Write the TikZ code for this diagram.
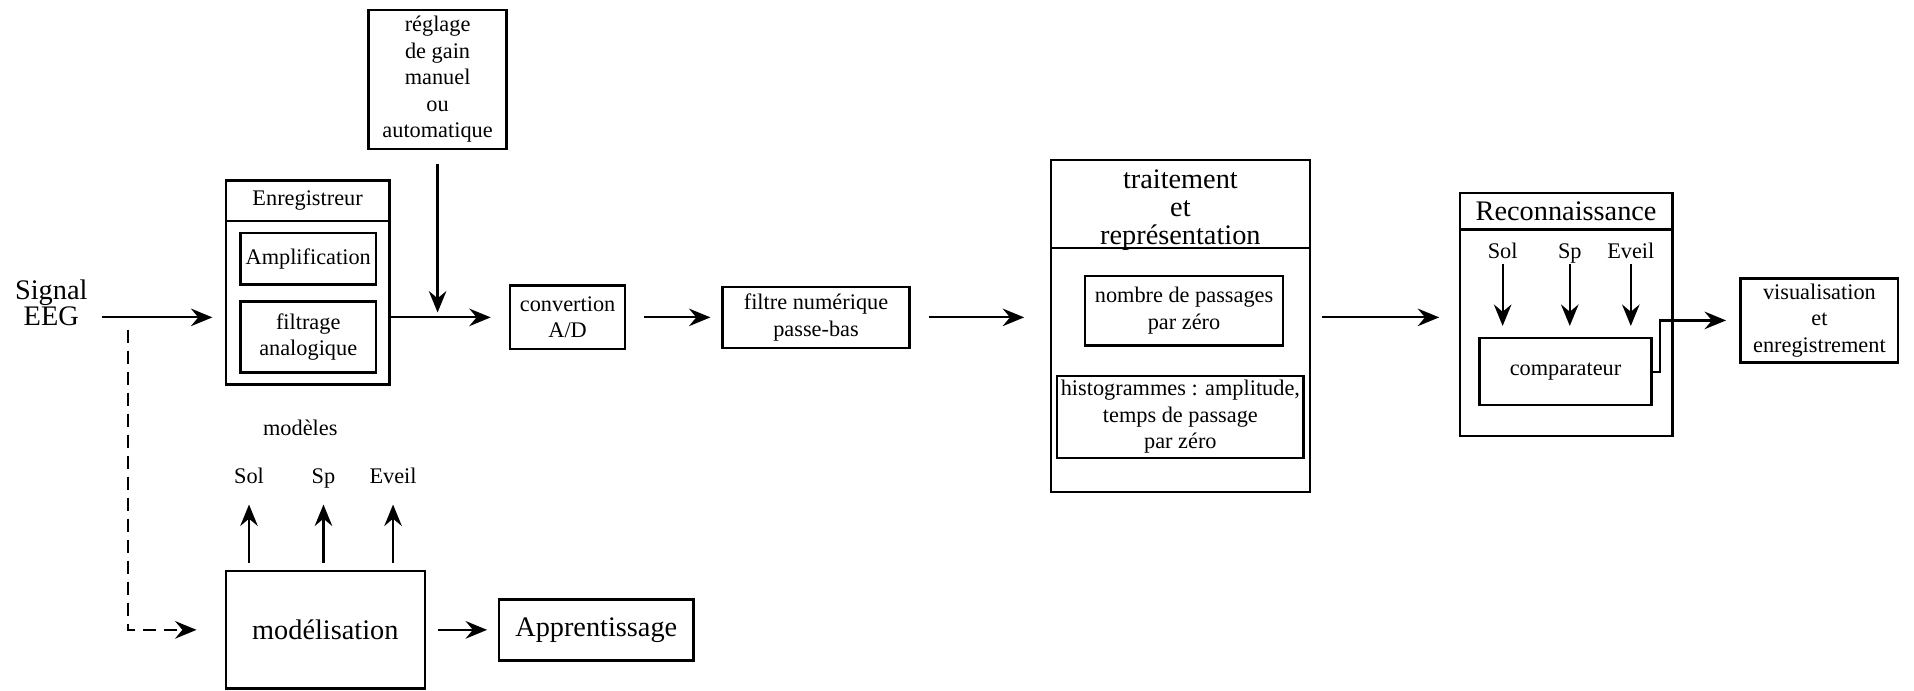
\documentclass[tikz,border=0pt]{standalone}
\usepackage{fontspec}
\setmainfont{Liberation Serif}
\usetikzlibrary{positioning,arrows.meta,calc}
\newcommand{\fsmall}{\fontsize{13}{15.5}\selectfont}
\newcommand{\fbig}{\fontsize{16.5}{16.5}\selectfont}
\newcommand{\fsig}{\fontsize{16.5}{15}\selectfont}
\tikzset{
  box/.style    = {draw, line width=1.4pt, align=center, inner sep=2pt, font=\fsmall},
  bigbox/.style = {box, font=\fbig},
  outer/.style  = {draw, line width=1.4pt, inner sep=0pt},
  hdr/.style    = {draw, line width=1.4pt, anchor=north, align=center, inner sep=0pt},
  lbl/.style    = {align=center, inner sep=1pt, font=\fsmall,
                   text height=1.6ex, text depth=0.4ex},
  arr/.style    = {-{Stealth[length=4.4mm,width=3.6mm,inset=1.5mm]}, line width=1.3pt},
  arrd/.style   = {arr, dash pattern=on 2.8mm off 1.5mm},
}

\begin{document}
\begin{tikzpicture}
  \useasboundingbox (0,0) rectangle (39.2,-14.15);

  % ---------------- Acquisition ----------------
  \node[font=\fsig, align=center, inner sep=1pt] (sig) at (1.05,-6.2) {Signal\\EEG};
  \node[outer, minimum width=3.35cm, minimum height=4.175cm] (enreg) at (6.3,-5.7875) {};
  \node[hdr, minimum width=3.35cm, minimum height=0.825cm, font=\fsmall] (enregT) at (enreg.north) {Enregistreur};
  \node[box, minimum width=2.775cm, minimum height=1.05cm] (ampli) at (6.3125,-5.3) {Amplification};
  \node[box, minimum width=2.775cm, minimum height=1.45cm] (filtA) at (6.3125,-6.9) {filtrage\\analogique};
  \node[box, minimum width=2.825cm, minimum height=2.85cm] (gain) at (8.9625,-1.625)
    {réglage\\de gain\\manuel\\ou\\automatique};
  \node[box, minimum width=2.35cm, minimum height=1.3cm] (conv) at (11.625,-6.5) {convertion\\A/D};
  \node[box, minimum width=3.825cm, minimum height=1.25cm] (filtN) at (16.7125,-6.5) {filtre numérique\\passe-bas};
  \coordinate (tap) at (2.625,-6.5);
  \coordinate (join) at (gain.south |- conv);
  \draw[arr, shorten <=0.25cm, shorten >=0.25cm] (sig.east |- conv) -- (enreg.west |- conv);
  \draw[arr, shorten >=0.375cm] (enreg.east |- conv) -- (conv.west);
  \draw[arr, shorten <=0.275cm, shorten >=0.1cm] (gain.south) -- (join);
  \draw[arr, shorten <=0.375cm, shorten >=0.225cm] (conv) -- (filtN);

  % ---------------- Traitement ----------------
  \node[outer, minimum width=5.3cm, minimum height=6.8cm] (trait) at (24.175,-6.675) {};
  \node[hdr, minimum width=5.3cm, minimum height=1.8cm,
    label={[font=\fbig, align=center, yshift=-0.13cm]center:{traitement\\et\\représentation}}]
    (traitT) at (trait.north) {};
  \node[box, minimum width=4.05cm, minimum height=1.425cm] (zero) at (24.25,-6.3625) {nombre de passages\\par zéro};
  \node[box, minimum width=5.05cm, minimum height=1.675cm] (histo) at (24.175,-8.5375)
    {histogrammes : amplitude,\\temps de passage\\par zéro};
  \draw[arr, shorten <=0.375cm, shorten >=0.525cm] (filtN.east) -- (trait.west |- filtN);

  % ---------------- Reconnaissance ----------------
  \node[outer, minimum width=4.35cm, minimum height=4.975cm] (recon) at (32.075,-6.4375) {};
  \node[hdr, minimum width=4.35cm, minimum height=0.75cm, font=\fbig] (reconT) at (recon.north) {Reconnaissance};
  \node[lbl] (solR)   at (30.775,-5.2) {Sol};
  \node[lbl] (spR)    at (32.15,-5.2)  {Sp};
  \node[lbl] (eveilR) at (33.4,-5.2)   {Eveil};
  \node[box, minimum width=3.525cm, minimum height=1.375cm] (comp) at (32.0625,-7.6125) {comparateur};
  \node[box, minimum width=3.225cm, minimum height=1.725cm] (visu) at (37.2625,-6.5625)
    {visualisation\\et\\enregistrement};
  \draw[arr, shorten <=0.225cm, shorten >=0.4cm] (trait.east |- filtN) -- (recon.west |- filtN);
  \foreach \l in {solR,spR,eveilR}
    \draw[arr, shorten >=0.225cm] (\l.south) -- (\l.south |- comp.north);
  \draw[arr, shorten >=0.275cm] (comp.east) -- ++(0.15,0) |- (visu.west);

  % ---------------- Apprentissage ----------------
  \node[lbl] (modeles) at (6.15,-8.825) {modèles};
  \node[lbl] (solM)   at (5.1,-9.8)   {Sol};
  \node[lbl] (spM)    at (6.625,-9.8) {Sp};
  \node[lbl] (eveilM) at (8.05,-9.8)  {Eveil};
  \node[bigbox, minimum width=4.075cm, minimum height=2.4cm] (model) at (6.6625,-12.9) {modélisation};
  \node[bigbox, minimum width=3.975cm, minimum height=1.25cm] (appr) at (12.2125,-12.9) {Apprentissage};
  \foreach \l in {solM,spM,eveilM}
    \draw[arr, shorten <=0.15cm, shorten >=0.33cm] (\l |- model.north) -- (\l.south);
  \draw[arr, shorten <=0.25cm, shorten >=0.225cm] (model) -- (appr);
  \draw[arrd, shorten <=0.25cm, shorten >=0.575cm] (tap) |- (model.west);
\end{tikzpicture}
\end{document}
